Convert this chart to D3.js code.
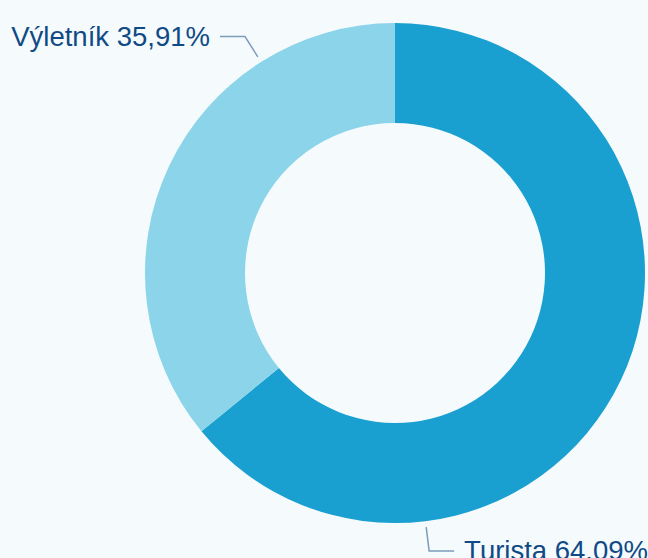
<!DOCTYPE html>
<html>
<head>
<meta charset="utf-8">
<script src="https://cdn.jsdelivr.net/npm/d3@7"></script>
<style>
  html, body { margin: 0; padding: 0; background: #f5fafd; }
  svg { display: block; }
  .lbl { font-family: "Liberation Sans", Arial, sans-serif; font-size: 27.5px; fill: #104a86; }
</style>
</head>
<body>
<svg></svg>
<script>
var width = 648;
var height = 558;

// data
var categories = ["Turista", "Výletník"];
var values = [64.09, 35.91];
var labels = ["Turista 64.09%", "Výletník 35,91%"];
var colors = ["#1aa0d0", "#8bd4ea"];

// where the label leader lines sit (degrees clockwise from top)
var labelAngles = [173, 327.6];

var cx = 395, cy = 273;
var outerR = 250, innerR = 150;

var svg = d3.select("svg")
    .attr("width", width)
    .attr("height", height);

var g = svg.append("g")
    .attr("transform", "translate(" + cx + "," + cy + ")");

var pie = d3.pie()
    .sort(null)
    .value(function(d) { return d; });

var arc = d3.arc()
    .innerRadius(innerR)
    .outerRadius(outerR);

var arcs = pie(values);

g.selectAll("path.slice")
    .data(arcs)
  .enter().append("path")
    .attr("class", "slice")
    .attr("d", arc)
    .style("fill", function(d, i) { return colors[i]; });

// leader lines + labels
function polar(r, deg) {
  var a = deg * Math.PI / 180;
  return [r * Math.sin(a), -r * Math.cos(a)];
}

arcs.forEach(function(d, i) {
  var deg = labelAngles[i];
  var p1 = polar(outerR + 6, deg);
  var p2 = polar(outerR + 30, deg);
  var right = Math.sin(deg * Math.PI / 180) > 0;
  var p3 = [p2[0] + (right ? 25 : -25), p2[1]];

  g.append("polyline")
      .attr("points", [p1, p2, p3].map(function(p) { return p.join(","); }).join(" "))
      .style("fill", "none")
      .style("stroke", "#7d9bba")
      .style("stroke-width", 1.5);

  g.append("text")
      .attr("class", "lbl")
      .attr("x", p3[0] + (right ? 10 : -10))
      .attr("y", p3[1] + 9)
      .attr("text-anchor", right ? "start" : "end")
      .text(labels[i]);
});
</script>
</body>
</html>
